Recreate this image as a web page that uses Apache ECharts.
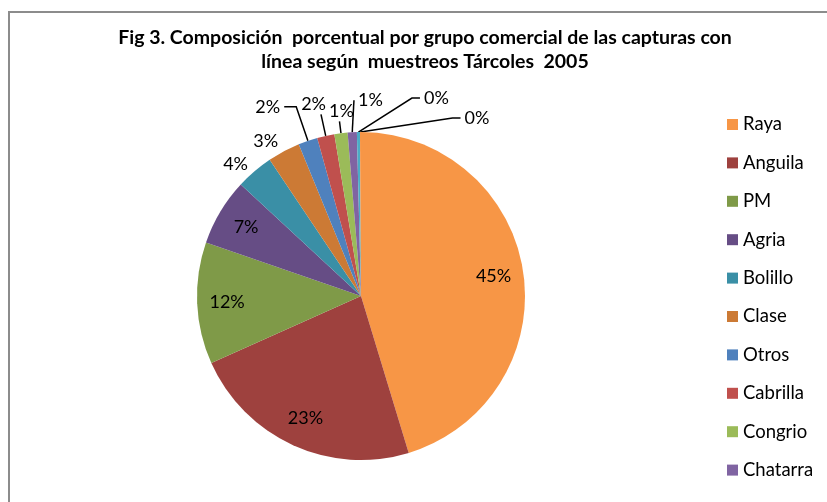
<!DOCTYPE html>
<html><head><meta charset="utf-8">
<script src="https://cdn.jsdelivr.net/npm/echarts@6/dist/echarts.min.js"></script>
<style>
html,body{margin:0;padding:0;background:#fff;overflow:hidden;}
#c{position:absolute;left:0;top:0;width:827px;height:502px;}
#frame{position:absolute;left:8px;top:11px;width:900px;height:600px;border-left:2px solid #8c8c8c;border-top:2px solid #8c8c8c;pointer-events:none;}
</style></head><body>
<div id="c"></div><div id="frame"></div>
<script>
// ---- data ----
const titleText = 'Fig 3. Composición  porcentual por grupo comercial de las capturas con\nlínea según  muestreos Tárcoles  2005';
const categories = ['Raya','Anguila','PM','Agria','Bolillo','Clase','Otros','Cabrilla','Congrio','Chatarra','Categoría 11','Categoría 12'];
const values = [45.3, 23.0, 12.0, 6.6, 3.7, 3.2, 1.9, 1.7, 1.3, 0.9, 0.3, 0.1];
const legendShown = categories.slice(0, 10);

// ---- styles ----
const colors = ['#F79646','#9E413E','#7F9A48','#664D85','#3A8FA6','#CC7A35','#4F81BD','#C0504D','#9BBB59','#8064A2','#4BACC6','#F79646'];
const insideCount = 4;
// per-slice leader settings for the small outside labels
const leadLen  = [0,0,0,0, 10, 12, 36, 22, 12, 32, 34, 14];
const leadLen2 = [0,0,0,0,  0,  0, 12,  0,  0,  0, 61, 100];
const leadShow = [0,0,0,0,  0,  0,  1,  1,  1,  1,  1,  1];
const leadMode = ['','','','','','','','top','above','mirror','mirror','mirror'];

const total = values.reduce((a,b)=>a+b,0);
const fmt = p => Math.round(p.value / total * 100) + '%';
const font = 'Lato, "Open Sans", sans-serif';

const mainData = categories.map((n,i)=>({
  name:n, value:values[i], itemStyle:{color:colors[i]},
  label:{show: i >= insideCount, distanceToLabelLine: leadShow[i] ? 4 : 0},
  labelLine:{show: !!leadShow[i], length: leadLen[i], length2: leadLen2[i]}
}));
const overlayData = categories.map((n,i)=>({
  name:n, value:values[i],
  label:{show: i < insideCount}
}));

function layoutLabel(params){
  const mode = leadMode[params.dataIndex];
  const pts = params.labelLinePoints;
  if (!mode || !pts) return {};
  const p0 = pts[0], p1 = pts[1], p2 = pts[2];
  if (mode === 'mirror') {
    const m = p => [2*p0[0] - p[0], p[1]];
    const e1 = m(p1), e2 = m(p2);
    const line = (e2[0] - e1[0] > 10) ? [p0, [e2[0]-8, e1[1]], e2] : [p0, e1, e1];
    return {x: e2[0] + 4, y: e2[1], align:'left', verticalAlign:'middle', labelLinePoints: line};
  }
  if (mode === 'top') {
    return {x: p1[0] + 5, y: p1[1] - 1, align:'right', verticalAlign:'bottom', labelLinePoints:[p0, p1, p1]};
  }
  if (mode === 'above') {
    return {x: p1[0] + 2, y: p1[1] - 1, align:'center', verticalAlign:'bottom', labelLinePoints:[p0, p1, p1]};
  }
  return {};
}

const chart = echarts.init(document.getElementById('c'), null, {renderer:'canvas'});
chart.setOption({
  animation:false,
  color: colors,
  title:{
    text:titleText, left:420, textAlign:'center', top:21,
    textStyle:{fontFamily:font, fontWeight:'bold', fontSize:19.5, lineHeight:24, color:'#000'}
  },
  legend:{
    data: legendShown, orient:'vertical', left:722, top:110,
    itemWidth:11, itemHeight:11, itemGap:19.4, icon:'rect',
    textStyle:{fontFamily:font, fontSize:18.5, color:'#000'},
    selectedMode:false
  },
  series:[
    {
      type:'pie', center:[361,296], radius:[0,164], startAngle:90, clockwise:true,
      data: mainData, avoidLabelOverlap:false, minShowLabelAngle:0,
      itemStyle:{borderWidth:0},
      label:{position:'outside', formatter:fmt, fontFamily:font, fontSize:18, color:'#000'},
      labelLine:{smooth:false, lineStyle:{color:'#000', width:1.5}},
      labelLayout: layoutLabel,
      emphasis:{disabled:true}, silent:true
    },
    {
      type:'pie', center:[361,296], radius:[98,164], startAngle:90, clockwise:true,
      data: overlayData, silent:true, legendHoverLink:false,
      itemStyle:{color:'rgba(0,0,0,0)', borderWidth:0},
      label:{position:'inside', formatter:fmt, fontFamily:font, fontSize:18, color:'#000'},
      labelLine:{show:false}, emphasis:{disabled:true}
    }
  ]
});
</script>
</body></html>
